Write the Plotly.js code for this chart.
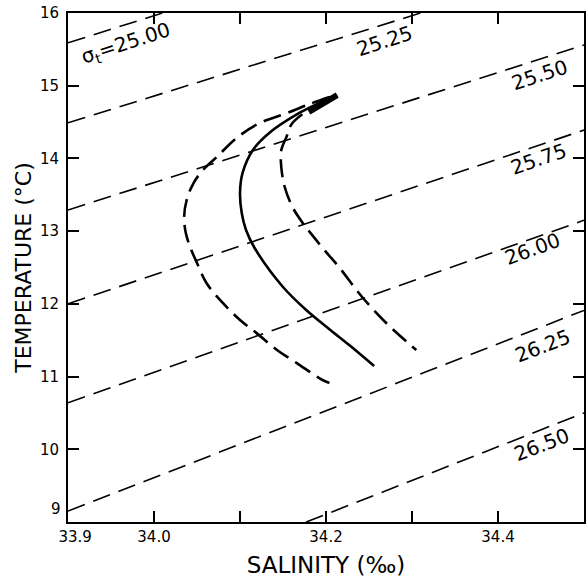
<!DOCTYPE html>
<html>
<head>
<meta charset="utf-8">
<script src="https://cdn.plot.ly/plotly-3.0.1.min.js"></script>
<style>html,body{margin:0;padding:0;background:#fff;}#chart{width:587px;height:583px;}</style>
</head>
<body>
<div id="chart"></div>
<script>
// Isopycnal (sigma-t) lines: end points
var sigmaNames = ["25.00", "25.25", "25.50", "25.75", "26.00", "26.25", "26.50"];
var isoS0 = [33.9, 33.9, 33.9, 33.9, 33.9, 33.9, 34.177];
var isoT0 = [15.59, 14.49, 13.29, 12.0, 10.64, 9.15, 9.0];
var isoS1 = [34.01, 34.31, 34.5, 34.5, 34.5, 34.5, 34.5];
var isoT1 = [16.0, 16.0, 15.56, 14.39, 13.15, 11.91, 10.50];

// label positions for the isopycnals
var labelText = ["σ<sub>t</sub>=25.00", "25.25", "25.50", "25.75", "26.00", "26.25", "26.50"];
var labelS = [33.967, 34.268, 34.448, 34.447, 34.440, 34.452, 34.450];
var labelT = [15.57, 15.61, 15.15, 13.99, 12.75, 11.42, 10.06];
var labelAngle = [-18, -18, -18, -19, -20, -21, -21];

// T-S curves
var solidS = [34.213, 34.192, 34.169, 34.134, 34.115, 34.103, 34.100, 34.102, 34.107, 34.117, 34.150, 34.177, 34.204, 34.227, 34.256];
var solidT = [14.872, 14.762, 14.625, 14.350, 14.116, 13.800, 13.524, 13.249, 13.016, 12.768, 12.232, 11.915, 11.650, 11.434, 11.145];

var leftS = [34.204, 34.181, 34.155, 34.123, 34.096, 34.073, 34.057, 34.046, 34.038, 34.035, 34.037, 34.042, 34.050, 34.061, 34.080, 34.100, 34.119, 34.143, 34.166, 34.196, 34.204];
var leftT = [14.845, 14.748, 14.625, 14.487, 14.281, 14.020, 13.841, 13.662, 13.428, 13.194, 12.974, 12.782, 12.562, 12.287, 12.012, 11.778, 11.601, 11.365, 11.186, 10.953, 10.912];

var rightS = [34.198, 34.161, 34.154, 34.148, 34.148, 34.152, 34.161, 34.173, 34.184, 34.198, 34.216, 34.241, 34.270, 34.305];
var rightT = [14.803, 14.487, 14.295, 14.116, 13.882, 13.607, 13.332, 13.112, 12.946, 12.741, 12.493, 12.108, 11.737, 11.365];

// thick common end segment at the top
var blobS = [34.180, 34.213];
var blobT = [14.64, 14.87];

var xTickVals = [33.9, 34.0, 34.1, 34.2, 34.3, 34.4];
var xTickText = ["\u00a0\u00a0\u00a033.9", "34.0", "", "34.2", "", "34.4"];
var yTickVals = [9, 10, 11, 12, 13, 14, 15, 16];
var yTickText = ["", "10", "11", "12", "13", "14", "15", "16"];
var yLowLabel = "9";   // the bottom temperature label sits a bit above its tick
var yLowValue = 9;

var traces = [];
for (var i = 0; i < sigmaNames.length; i++) {
  traces.push({
    x: [isoS0[i], isoS1[i]], y: [isoT0[i], isoT1[i]],
    mode: "lines", type: "scatter", name: sigmaNames[i],
    line: {color: "#000", width: 1.6, dash: "18px,9px"},
    hoverinfo: "skip"
  });
}
traces.push({x: leftS, y: leftT, mode: "lines", type: "scatter", line: {color: "#000", width: 2.6, dash: "18px,8px", shape: "spline"}});
traces.push({x: solidS, y: solidT, mode: "lines", type: "scatter", line: {color: "#000", width: 2.6, shape: "spline"}});
traces.push({x: rightS, y: rightT, mode: "lines", type: "scatter", line: {color: "#000", width: 2.6, dash: "18px,8px", shape: "spline"}});
traces.push({x: blobS, y: blobT, mode: "lines", type: "scatter", line: {color: "#000", width: 6}});

var annotations = [];
for (var j = 0; j < labelText.length; j++) {
  annotations.push({
    x: labelS[j], y: labelT[j], xref: "x", yref: "y",
    text: labelText[j], showarrow: false, textangle: labelAngle[j],
    font: {family: "DejaVu Sans", size: 20, color: "#000"}
  });
}
annotations.push({
  x: 0, xref: "paper", y: yLowValue, yref: "y", xanchor: "right", yanchor: "middle",
  xshift: -5, yshift: 13, text: yLowLabel, showarrow: false,
  font: {family: "DejaVu Sans", size: 15, color: "#000"}
});

var layout = {
  width: 587, height: 583,
  margin: {l: 68, r: 3, t: 13, b: 61},
  paper_bgcolor: "#fff", plot_bgcolor: "#fff",
  showlegend: false,
  font: {family: "DejaVu Sans", color: "#000"},
  xaxis: {
    range: [33.9, 34.5], tickmode: "array", tickvals: xTickVals, ticktext: xTickText,
    ticks: "inside", ticklen: 11, tickwidth: 2, tickcolor: "#000",
    showline: true, linewidth: 2, linecolor: "#000", mirror: "ticks",
    showgrid: false, zeroline: false,
    tickfont: {family: "DejaVu Sans", size: 15, color: "#000"},
    title: {text: "SALINITY (‰)", font: {family: "DejaVu Sans", size: 23, color: "#000"}, standoff: 12}
  },
  yaxis: {
    range: [9, 16], tickmode: "array", tickvals: yTickVals, ticktext: yTickText,
    ticks: "inside", ticklen: 11, tickwidth: 2, tickcolor: "#000",
    showline: true, linewidth: 2, linecolor: "#000", mirror: "ticks",
    showgrid: false, zeroline: false, ticklabelstandoff: 4,
    tickfont: {family: "DejaVu Sans", size: 15, color: "#000"},
    title: {text: "TEMPERATURE (°C)", font: {family: "DejaVu Sans", size: 22, color: "#000"}, standoff: 2}
  },
  annotations: annotations
};

Plotly.newPlot("chart", traces, layout, {displayModeBar: false, staticPlot: true});
</script>
</body>
</html>
